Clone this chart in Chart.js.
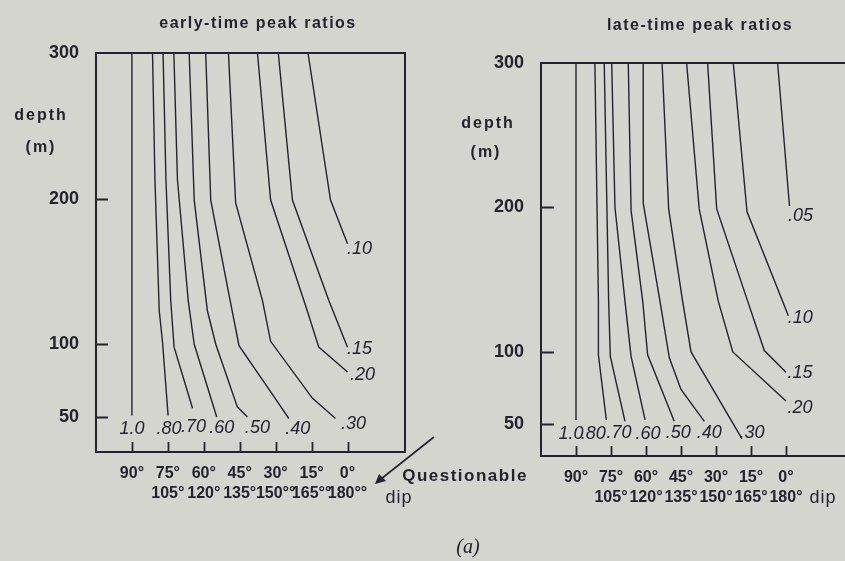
<!DOCTYPE html>
<html><head><meta charset="utf-8">
<script src="https://cdn.jsdelivr.net/npm/chart.js@4.4.1/dist/chart.umd.min.js"></script>
<style>
html,body{margin:0;padding:0;width:845px;height:561px;overflow:hidden;background:#d4d5cf;}
#wrap{position:relative;width:845px;height:561px;overflow:hidden;}
.c{position:absolute;top:0;height:561px;}
.t{position:absolute;white-space:nowrap;color:#23232d;font-family:"Liberation Sans",Arial,sans-serif;transform:translate(-50%,-50%);line-height:1;}
.b{font-weight:bold;font-size:16px;letter-spacing:1.5px;}
</style></head><body>
<div id="wrap">
<div class="c" style="left:0;width:470px"><canvas id="early"></canvas></div>
<div class="c" style="left:440px;width:460px"><canvas id="late"></canvas></div>
<div class="t b" style="left:258px;top:23px">early-time peak ratios</div>
<div class="t b" style="left:700px;top:25px">late-time peak ratios</div>
<div class="t b" style="left:41px;top:115px;letter-spacing:2px">depth</div>
<div class="t b" style="left:41px;top:147px;letter-spacing:2px">(m)</div>
<div class="t b" style="left:488px;top:123px;letter-spacing:2px">depth</div>
<div class="t b" style="left:486px;top:152px;letter-spacing:2px">(m)</div>
<div class="t" style="left:465px;top:475px;font-size:17px;font-weight:bold;letter-spacing:1.5px">Questionable</div>
<div class="t" style="left:399px;top:497px;font-size:18px;letter-spacing:1px">dip</div>
<div class="t" style="left:823px;top:497px;font-size:18px;letter-spacing:1px">dip</div>
<div class="t" style="left:468px;top:546px;font-family:'Liberation Serif',serif;font-style:italic;font-size:20px">(a)</div>
<svg style="position:absolute;left:0;top:0" width="845" height="561">
  <line x1="434" y1="437" x2="381" y2="479" stroke="#23232d" stroke-width="1.6"/>
  <polygon points="375,484 379,474 386,481" fill="#23232d"/>
</svg>
</div>
<script>
const INK = '#23232d';
// x = dip angle (degrees), y = depth (m)
const dipTicks = [90, 75, 60, 45, 30, 15, 0];
const dipLabelsTop = ['90°', '75°', '60°', '45°', '30°', '15°', '0°'];
const dipLabelsEarly = ['', '105°', '120°', '135°', '150°°', '165°°', '180°°'];
const dipLabelsLate = ['', '105°', '120°', '135°', '150°', '165°', '180°'];
const depthTicks = [300, 200, 100, 50];

// early-time contours [dip, depth]
const early_100 = [[90, 300], [90, 51]];
const early_080 = [[81.4, 300], [80.4, 213], [78.6, 123], [77.2, 101], [74.9, 51]];
const early_070 = [[77.0, 300], [75.8, 213], [73.8, 130], [72.4, 98], [64.7, 56]];
const early_060 = [[72.5, 300], [71.0, 213], [66.5, 130], [64.0, 100], [54.6, 50]];
const early_050 = [[66.1, 300], [64.0, 199], [58.5, 123], [55.0, 100], [46.0, 57], [41.8, 50]];
const early_040 = [[59.2, 300], [57.1, 199], [49.0, 130], [45.3, 99], [30.7, 64], [24.5, 49]];
const early_030 = [[49.7, 300], [46.7, 197], [35.5, 130], [32.1, 102], [14.7, 63], [5.0, 49]];
const early_020 = [[37.6, 300], [32.1, 199], [16.8, 123], [12.0, 98], [0, 81]];
const early_015 = [[28.9, 300], [23.0, 199], [7.8, 130], [0, 98]];
const early_010 = [[16.5, 300], [7.1, 199], [0, 169]];
const earlyNames = ['1.0', '.80', '.70', '.60', '.50', '.40', '.30', '.20', '.15', '.10'];
const earlyCurves = [early_100, early_080, early_070, early_060, early_050, early_040, early_030, early_020, early_015, early_010];

// late-time contours [dip, depth]
const late_100 = [[90, 300], [90, 53]];
const late_080 = [[81.9, 300], [80.4, 135], [80.4, 98], [77.0, 53]];
const late_070 = [[77.9, 300], [76.0, 135], [75.3, 97], [69.0, 52]];
const late_060 = [[74.7, 300], [73.3, 200], [69.0, 135], [66.4, 97], [60.4, 53]];
const late_050 = [[67.6, 300], [66.4, 198], [61.4, 135], [59.3, 98], [47.9, 52]];
const late_040 = [[61.2, 300], [61.2, 203], [54.0, 135], [50.0, 96], [45.0, 74], [35.0, 52]];
const late_030 = [[53.1, 300], [50.3, 199], [44.3, 135], [40.7, 100], [18.9, 40]];
const late_020 = [[42.6, 300], [37.2, 199], [29.0, 135], [22.8, 100], [0, 66]];
const late_015 = [[33.6, 300], [29.7, 199], [16.4, 135], [9.3, 101], [0, 86]];
const late_010 = [[22.6, 300], [16.7, 197], [-1, 125]];
const late_005 = [[3.6, 300], [-1.5, 201]];
const lateNames = ['1.0', '.80', '.70', '.60', '.50', '.40', '.30', '.20', '.15', '.10', '.05'];
const lateCurves = [late_100, late_080, late_070, late_060, late_050, late_040, late_030, late_020, late_015, late_010, late_005];

// label placement offsets (pixels) relative to curve end
const earlyLabelOffsets = [[0,13],[1,13],[1,19],[5,11],[10,11],[9,10],[18,5],[15,3],[12,2],[12,5]];
const lateLabelOffsets = [[-5,14],[-13,14],[-6,12],[3,14],[4,12],[5,12],[10,-6],[14,7],[14,1],[12,2],[11,10]];

Chart.defaults.font.family = '"Liberation Sans", Arial, sans-serif';
Chart.defaults.color = INK;

const framePlugin = {
  id: 'frame',
  afterDatasetsDraw(chart, args, opts) {
    const { ctx, chartArea: a } = chart;
    const x = chart.scales.x, y = chart.scales.y;
    ctx.save();
    ctx.strokeStyle = INK;
    ctx.lineWidth = 2;
    ctx.strokeRect(a.left, a.top, a.right - a.left, a.bottom - a.top);
    ctx.lineWidth = 1.8;
    ctx.beginPath();
    y.ticks.forEach(t => {
      if (t.value >= y.max) return;
      const py = Math.round(y.getPixelForValue(t.value)) + 0.5;
      ctx.moveTo(a.left, py); ctx.lineTo(a.left + opts.yTick, py);
    });
    x.ticks.forEach(t => {
      const px = Math.round(x.getPixelForValue(t.value)) + 0.5;
      ctx.moveTo(px, a.bottom); ctx.lineTo(px, a.bottom - opts.xTick);
    });
    ctx.stroke();
    ctx.fillStyle = INK;
    ctx.font = 'italic 18px "Liberation Sans", Arial, sans-serif';
    ctx.textAlign = 'center';
    ctx.textBaseline = 'middle';
    chart.data.datasets.forEach((ds, i) => {
      const meta = chart.getDatasetMeta(i);
      const p = meta.data[meta.data.length - 1];
      const off = opts.offsets[i];
      ctx.fillText(ds.label, p.x + off[0], p.y + off[1]);
    });
    ctx.restore();
  }
};

function makeChart(id, names, curves, bottomLabels, cfg) {
  const datasets = curves.map((c, i) => ({
    label: names[i],
    data: c.map(p => ({ x: p[0], y: p[1] })),
    showLine: true,
    borderColor: INK,
    borderWidth: 1.4,
    pointRadius: 0,
    tension: 0,
    fill: false
  }));
  return new Chart(document.getElementById(id), {
    type: 'scatter',
    data: { datasets },
    plugins: [framePlugin],
    options: {
      responsive: true,
      maintainAspectRatio: false,
      animation: false,
      events: [],
      layout: { padding: { top: cfg.top, right: cfg.right, bottom: cfg.bottom, left: 0 } },
      plugins: {
        legend: { display: false },
        tooltip: { enabled: false },
        frame: { offsets: cfg.offsets, yTick: cfg.yTick, xTick: 10 }
      },
      scales: {
        x: {
          type: 'linear',
          reverse: true,
          min: cfg.xmin, max: 105,
          grid: { display: false },
          border: { display: false },
          afterBuildTicks: s => { s.ticks = dipTicks.map(v => ({ value: v })); },
          afterFit: s => { s.height = 60; },
          ticks: {
            autoSkip: false, maxRotation: 0, padding: 4,
            font: { size: 16, weight: 'bold', lineHeight: 1.25 },
            callback: (v) => {
              const i = dipTicks.indexOf(v);
              return [dipLabelsTop[i], bottomLabels[i]];
            }
          }
        },
        y: {
          type: 'linear',
          min: cfg.ymin, max: 300,
          grid: { display: false },
          border: { display: false },
          afterBuildTicks: s => { s.ticks = depthTicks.map(v => ({ value: v })); },
          afterFit: s => { s.width = cfg.yWidth; },
          ticks: {
            padding: 9,
            font: { size: 18, weight: 'bold' },
            callback: v => String(v)
          }
        }
      }
    }
  });
}

makeChart('early', earlyNames, earlyCurves, dipLabelsEarly,
  { top: 53, right: 65, bottom: 49, yWidth: 96, xmin: -24, ymin: 26, yTick: 12, offsets: earlyLabelOffsets });
makeChart('late', lateNames, lateCurves, dipLabelsLate,
  { top: 63, right: 2, bottom: 45, yWidth: 101, xmin: -48, ymin: 28, yTick: 13, offsets: lateLabelOffsets });
</script>
</body></html>
